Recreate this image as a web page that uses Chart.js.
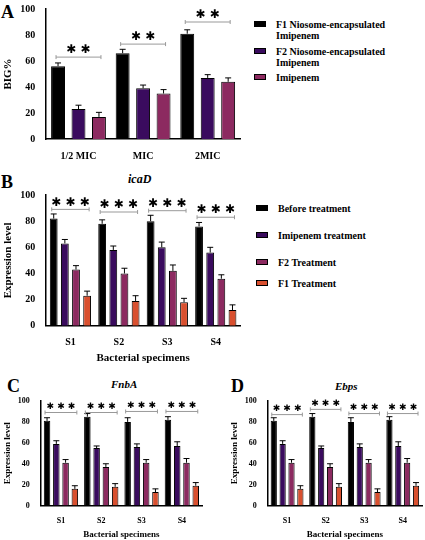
<!DOCTYPE html>
<html><head><meta charset="utf-8">
<script src="https://cdn.jsdelivr.net/npm/chart.js@4"></script>
<style>
body{margin:0;width:425px;height:540px;background:#fff;position:relative;font-family:"Liberation Serif",serif;font-weight:bold;overflow:hidden}
.c{position:absolute}
.t{position:absolute;white-space:nowrap;color:#000}
.lg{position:absolute;font-size:10px;line-height:11px}
.sw{position:absolute;width:12px;height:6px;border:1px solid #000;box-sizing:border-box}
</style></head><body>
<div class="t" style="left:1px;top:2px;font-size:18px">A</div>
<div class="t" style="left:1px;top:172px;font-size:18px">B</div>
<div class="t" style="left:7px;top:376px;font-size:18px">C</div>
<div class="t" style="left:231px;top:376px;font-size:18px">D</div>
<div class="t" style="left:128px;top:172px;font-size:12px;font-style:italic">icaD</div>
<div class="t" style="left:111px;top:378px;font-size:11px;font-style:italic">FnbA</div>
<div class="t" style="left:335px;top:380px;font-size:11px;font-style:italic">Ebps</div>
<div class="c" style="left:0;top:0;width:245px;height:165px"><canvas id="a"></canvas></div>
<div class="c" style="left:0;top:183px;width:245px;height:182px"><canvas id="b"></canvas></div>
<div class="c" style="left:0;top:393px;width:205px;height:147px"><canvas id="cc"></canvas></div>
<div class="c" style="left:227px;top:393px;width:198px;height:147px"><canvas id="d"></canvas></div>
<div id="legA"></div><div id="legB"></div>
<script>
const catsA=["1/2 MIC","MIC","2MIC"];
const aF1=[56,66,81], aF2=[23,39,47], aImi=[17,35,44];
const aF1e=[2.5,3,3], aF2e=[3,2.5,2.5], aImie=[3.5,3,3];
const sigA=[63,73,90];
const catsS=["S1","S2","S3","S4"];
const bBefore=[82,78,80,76], bImi=[63,58,60,56], bF2=[43,40,42,36], bF1=[23,19,18,12];
const bBeforeE=[3.5,3,4.5,3], bImiE=[3,3,4,4], bF2E=[3,4,4.5,3], bF1E=[3.5,4,3,4];
const sigB=[89,87,88,83];
const cBefore=[81,85,80,82], cImi=[59,55,56,57], cF2=[41,37,41,41], cF1=[16,18,13,19];
const cBeforeE=[3,3,4,3], cImiE=[3,2,3,4], cF2E=[3,3,3,4], cF1E=[3,3,3,3];
const sigC=[89,89,90,90];
const sigD=[87,92,88,88];
const yTicks=[0,20,40,60,80,100];

const BLACK="#000000", PURP="#3a0b5e", MAG="#8c2a60", ORG="#d9502f";

const plug={id:'extras',afterDatasetsDraw(ch){
  const c=ch.ctx, y=ch.scales.y;
  ch.data.datasets.forEach((ds,i)=>{
    const m=ch.getDatasetMeta(i);
    m.data.forEach((bar,j)=>{
      const top=y.getPixelForValue(ds.data[j]+ds.err[j]);
      c.strokeStyle="#000";c.lineWidth=1;
      c.beginPath();c.moveTo(bar.x,bar.y);c.lineTo(bar.x,top);
      c.moveTo(bar.x-3,top);c.lineTo(bar.x+3,top);c.stroke();
    });
  });
  const sig=ch.options.plugins.extras.sig, stars=ch.options.plugins.extras.stars, fs=ch.options.plugins.extras.fs;
  const first=ch.getDatasetMeta(0), last=ch.getDatasetMeta(ch.data.datasets.length-1);
  sig.forEach((v,j)=>{
    const x1=first.data[j].x-2, x2=last.data[j].x+2, py=y.getPixelForValue(v);
    c.strokeStyle="#999";c.lineWidth=1;
    c.beginPath();c.moveTo(x1,py);c.lineTo(x2,py);c.moveTo(x1,py-2);c.lineTo(x1,py+2);c.moveTo(x2,py-2);c.lineTo(x2,py+2);c.stroke();
    c.fillStyle="#000";c.font="bold "+fs+"px 'DejaVu Sans'";c.textAlign="center";c.textBaseline="bottom";
    c.fillText(stars,(x1+x2)/2,py-1);
  });
}};

function mk(id,cats,sets,opt){
  new Chart(document.getElementById(id),{type:'bar',
    data:{labels:cats,datasets:sets.map(s=>({data:s[0],err:s[1],backgroundColor:s[2],borderColor:"#000",borderWidth:1,barPercentage:opt.bp,categoryPercentage:opt.cp}))},
    options:{responsive:true,maintainAspectRatio:false,animation:false,
      layout:{padding:opt.pad},
      plugins:{legend:{display:false},tooltip:{enabled:false},extras:{sig:opt.sig,stars:opt.stars,fs:opt.fs}},
      scales:{
        x:{grid:{display:false,drawTicks:true},border:{color:"#000",width:1.5},ticks:{color:"#000",font:{family:"Liberation Serif",weight:"bold",size:opt.tf}},
           title:{display:!!opt.xt,text:opt.xt||"",color:"#000",font:{family:"Liberation Serif",weight:"bold",size:opt.xtf},padding:0}},
        y:{min:0,max:100,afterBuildTicks:a=>{a.ticks=yTicks.map(v=>({value:v}))},grid:{display:false,drawTicks:true},border:{color:"#000",width:1.5},
           ticks:{color:"#000",font:{family:"Liberation Serif",weight:"bold",size:opt.tf}},
           title:{display:true,text:opt.yt,color:"#000",font:{family:"Liberation Serif",weight:"bold",size:opt.ytf},padding:2}}
      }},plugins:[plug]});
}
mk('a',catsA,[[aF1,aF1e,BLACK],[aF2,aF2e,PURP],[aImi,aImie,MAG]],{bp:0.68,cp:0.95,pad:{top:8,right:5},sig:sigA,stars:"✱ ✱",fs:12,tf:10,yt:"BIG%",ytf:11});
mk('b',catsS,[[bBefore,bBeforeE,BLACK],[bImi,bImiE,PURP],[bF2,bF2E,MAG],[bF1,bF1E,ORG]],{bp:0.7,cp:0.92,pad:{top:12,right:5},sig:sigB,stars:"✱ ✱ ✱",fs:12,tf:10,yt:"Expression level",ytf:11,xt:"Bacterial specimens",xtf:11});
const cOpt={bp:0.7,cp:0.92,pad:{top:8,right:3},stars:"✱ ✱ ✱",fs:9,tf:8,yt:"Expression level",ytf:9,xt:"Bacterial specimens",xtf:9};
mk('cc',catsS,[[cBefore,cBeforeE,BLACK],[cImi,cImiE,PURP],[cF2,cF2E,MAG],[cF1,cF1E,ORG]],Object.assign({sig:sigC},cOpt));
mk('d',catsS,[[cBefore,cBeforeE,BLACK],[cImi,cImiE,PURP],[cF2,cF2E,MAG],[cF1,cF1E,ORG]],Object.assign({sig:sigD},cOpt));

function leg(el,items,x,ys){
  let h="";items.forEach((it,i)=>{
    h+=`<div class="sw" style="left:${x}px;top:${ys[i]+2}px;background:${it[1]}"></div><div class="lg" style="left:${x+22}px;top:${ys[i]}px">${it[0]}</div>`;
  });document.getElementById(el).innerHTML=h;
}
leg('legA',[["F1 Niosome-encapsulated<br>Imipenem",BLACK],["F2 Niosome-encapsulated<br>Imipenem",PURP],["Imipenem",MAG]],254,[19,46,72]);
leg('legB',[["Before treatment",BLACK],["Imipenem treatment",PURP],["F2 Treatment",MAG],["F1 Treatment",ORG]],256,[203,230,257,278]);
</script></body></html>
